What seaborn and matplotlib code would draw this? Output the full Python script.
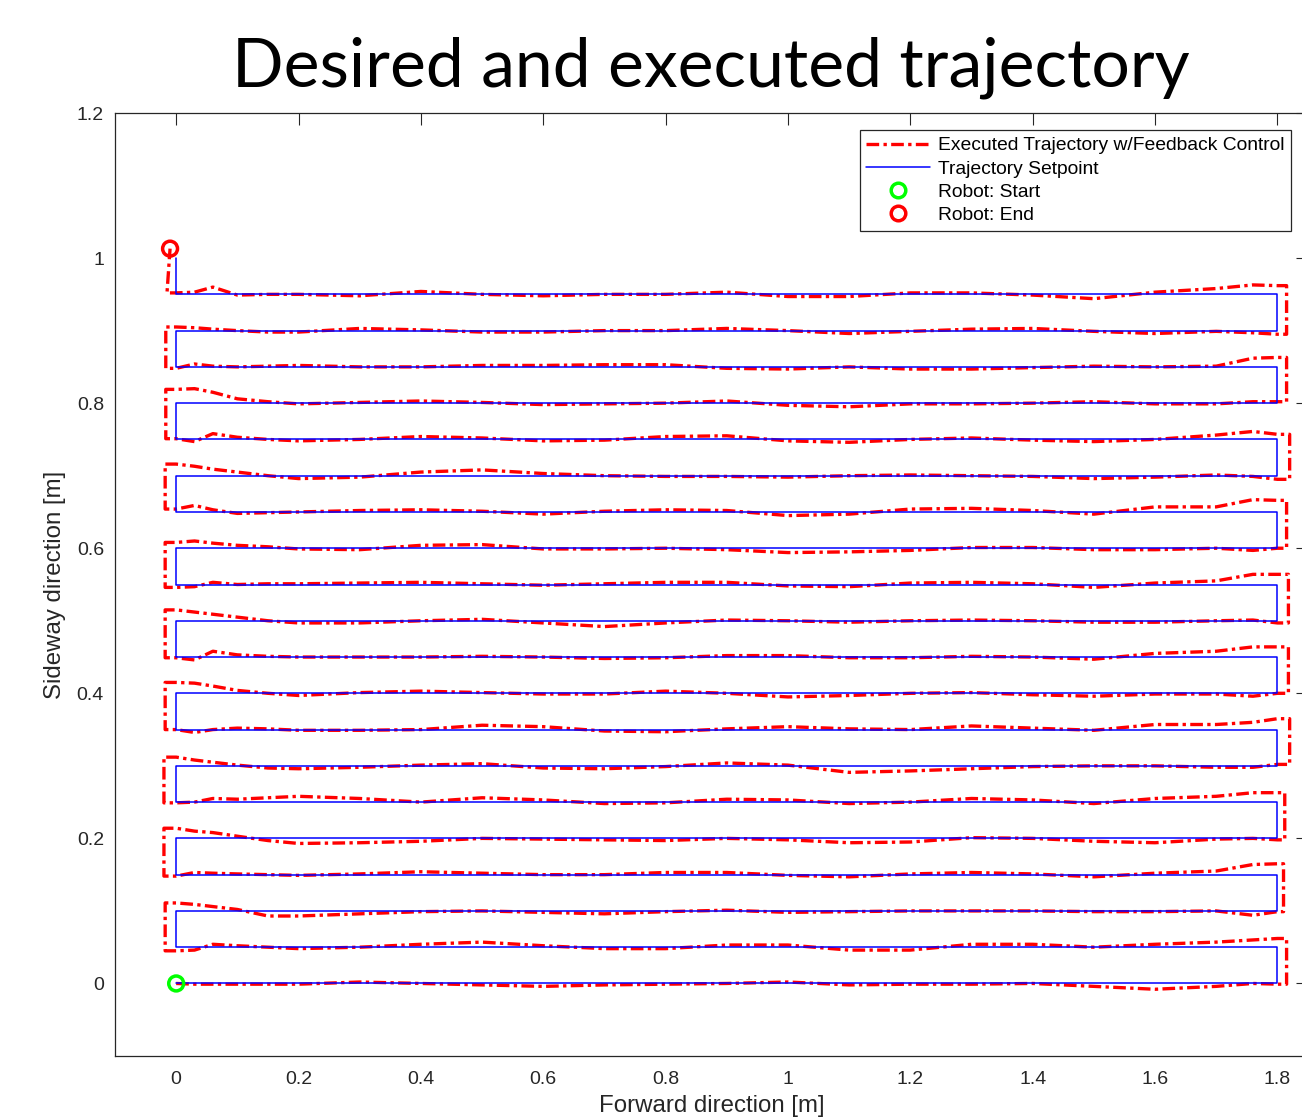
import numpy as np
import pandas as pd
import matplotlib
matplotlib.use("Agg")
import matplotlib.pyplot as plt
from matplotlib.lines import Line2D
import seaborn as sns

# ---------------- data ----------------
ROW_Y = [0.00, 0.05, 0.10, 0.15, 0.20, 0.25, 0.30, 0.35, 0.40, 0.45,
         0.50, 0.55, 0.60, 0.65, 0.70, 0.75, 0.80, 0.85, 0.90, 0.95]
X_MIN_SET = 0.0
X_MAX_SET = 1.8
SET_END_Y = 1.0

# x positions at which the executed path deviation was read (m)
X_GRID = [0.00, 0.03, 0.06, 0.10, 0.15, 0.20, 0.30, 0.40, 0.50, 0.60, 0.70, 0.80,
          0.90, 1.00, 1.10, 1.20, 1.30, 1.40, 1.50, 1.60, 1.70, 1.76, 1.80]

# executed-path deviation from each setpoint row (mm), ordered by X_GRID
DEV_ROW_00 = [0, -1, -1, -1, -1, -1, 2, 0, -2, -4, -2, -1, 0, 2, -2, -1, -1, 0, -4, -8, -4, 0, -1]
DEV_ROW_01 = [-5, -4, 4, 2, 0, -2, 0, 4, 7, 2, -2, -2, 3, 3, -4, -4, 4, 4, 0, 4, 7, 10, 12]
DEV_ROW_02 = [11, 9, 6, 2, -7, -7, -4, -1, 0, -2, -4, -1, 1, -2, -1, 0, 0, 0, -1, -1, 0, -6, -1]
DEV_ROW_03 = [-2, 3, 2, 1, 0, -1, 1, 4, 2, 0, 0, 3, 3, -1, -3, 1, 3, 1, -3, 2, 5, 14, 15]
DEV_ROW_04 = [14, 10, 8, 3, -3, -7, -6, -4, 0, -1, -2, -3, 0, -2, -6, -5, 1, 0, -4, -6, -1, 0, -2]
DEV_ROW_05 = [-1, 0, 5, 4, 6, 8, 5, 0, 6, 3, -2, -1, 4, 3, -2, 0, 5, 3, -2, 5, 8, 13, 13]
DEV_ROW_06 = [12, 8, 5, 1, -3, -4, -2, 1, 3, -3, -4, -1, 4, 1, -9, -7, -4, -1, 0, 0, -2, -2, 2]
DEV_ROW_07 = [0, -4, 0, 2, 1, -1, -1, 0, 6, 4, -2, -3, 1, 4, 1, 0, 5, 2, -1, 7, 7, 10, 15]
DEV_ROW_08 = [15, 14, 10, 4, 0, -3, 1, 3, 1, -1, -1, 3, 0, -5, -3, 0, 1, -2, -4, -1, -1, -4, 0]
DEV_ROW_09 = [-1, -4, 8, 3, 1, 0, 0, 0, 1, 0, -2, -1, 2, 2, -1, -1, 1, 0, -3, 5, 8, 14, 14]
DEV_ROW_10 = [15, 12, 9, 5, 0, -3, -3, 0, 2, -3, -8, -3, 1, 0, -2, 0, 1, 0, -2, -2, 0, 1, -3]
DEV_ROW_11 = [-4, -3, 3, 0, 1, 1, 2, 3, 1, -1, 1, 3, 3, -2, -3, 2, 3, 1, -4, 2, 5, 14, 14]
DEV_ROW_12 = [8, 10, 7, 4, 2, -1, -2, 4, 5, -1, -1, 0, -2, -6, -5, -3, 1, 1, -2, -2, 0, -3, 0]
DEV_ROW_13 = [4, 9, 3, -2, -1, 0, 2, 3, 1, -3, 1, 3, 2, -5, -3, 4, 5, 2, -3, 7, 7, 17, 16]
DEV_ROW_14 = [16, 13, 9, 5, 0, -4, -2, 5, 8, 3, 0, -1, -1, -2, 0, 1, 0, -1, -4, -2, 1, -1, -5]
DEV_ROW_15 = [1, -3, 8, 3, 0, -2, 0, 4, 2, -2, -1, 4, 5, -2, -4, 0, 2, -1, -3, 0, 6, 11, 7]
DEV_ROW_16 = [19, 20, 15, 6, 2, -1, 1, 3, 1, -2, -1, 0, 3, -3, -5, -1, -1, 0, 2, -1, -1, 2, 2]
DEV_ROW_17 = [-2, 4, 1, 0, 1, 2, 0, 0, 2, 2, 3, 3, -2, -3, 0, -3, -3, -1, 1, 0, 1, 12, 13]
DEV_ROW_18 = [5, 4, 2, 0, -2, -2, 3, 1, -2, -2, 0, 0, 3, 0, -4, -1, 2, 3, -1, -4, -1, -3, -5]
DEV_ROW_19 = [2, 3, 10, -1, 0, 0, -2, 4, 0, -2, 0, 0, 3, -3, -3, 2, 2, -1, -6, 3, 8, 13, 12]
DEV_ROWS = [DEV_ROW_00, DEV_ROW_01, DEV_ROW_02, DEV_ROW_03, DEV_ROW_04,
            DEV_ROW_05, DEV_ROW_06, DEV_ROW_07, DEV_ROW_08, DEV_ROW_09,
            DEV_ROW_10, DEV_ROW_11, DEV_ROW_12, DEV_ROW_13, DEV_ROW_14,
            DEV_ROW_15, DEV_ROW_16, DEV_ROW_17, DEV_ROW_18, DEV_ROW_19]

# x reached by the robot while turning (right end / left end)
TURN_X_RIGHT = [1.815, 1.810, 1.812, 1.820, 1.818, 1.818, 1.815, 1.820, 1.815, 1.815]
TURN_X_LEFT = [-0.018, -0.020, -0.020, -0.018, -0.018, -0.018, -0.018, -0.017, -0.017]
FINAL_TURN_X = -0.015
START_XY = (0.0, 0.0)
END_XY = (-0.010, 1.013)

LABEL_EXEC = "Executed Trajectory w/Feedback Control"
LABEL_SET = "Trajectory Setpoint"
LABEL_START = "Robot: Start"
LABEL_END = "Robot: End"
TITLE = "Desired and executed trajectory"
XLABEL = "Forward direction [m]"
YLABEL = "Sideway direction [m]"
XTICKS = [0, 0.2, 0.4, 0.6, 0.8, 1.0, 1.2, 1.4, 1.6, 1.8]
XTICK_LABELS = ["0", "0.2", "0.4", "0.6", "0.8", "1", "1.2", "1.4", "1.6", "1.8"]
YTICKS = [0, 0.2, 0.4, 0.6, 0.8, 1.0, 1.2]
YTICK_LABELS = ["0", "0.2", "0.4", "0.6", "0.8", "1", "1.2"]

# ---------------- build paths ----------------
sx, sy = [], []
for i, y in enumerate(ROW_Y):
    if i % 2 == 0:
        sx += [X_MIN_SET, X_MAX_SET]
    else:
        sx += [X_MAX_SET, X_MIN_SET]
    sy += [y, y]
sx.append(X_MIN_SET)
sy.append(SET_END_Y)
setpoint = pd.DataFrame({"x": sx, "y": sy})

ex, ey = [], []
xg = np.array(X_GRID)
prev_end = None
for i, y in enumerate(ROW_Y):
    yy = y + np.array(DEV_ROWS[i]) / 1000.0
    xx = xg.copy()
    if i % 2 == 1:
        xx = xx[::-1]
        yy = yy[::-1]
    if i > 0:
        if i % 2 == 1:
            tx = TURN_X_RIGHT[(i - 1) // 2]
        else:
            tx = TURN_X_LEFT[(i - 2) // 2]
        ex += [tx, tx]
        ey += [prev_end, yy[0]]
    ex += list(xx)
    ey += list(yy)
    prev_end = yy[-1]
ex += [FINAL_TURN_X, END_XY[0]]
ey += [prev_end, END_XY[1]]
executed = pd.DataFrame({"x": ex, "y": ey})

# ---------------- figure ----------------
sns.set_theme(style="white")
plt.rcParams["font.family"] = ["Liberation Sans", "DejaVu Sans"]

W, H = 1302, 1117
fig = plt.figure(figsize=(W / 100, H / 100), dpi=100)
ax_l, ax_r, ax_t, ax_b = 115, 1308, 113, 1056
ax = fig.add_axes([ax_l / W, (H - ax_b) / H, (ax_r - ax_l) / W, (ax_b - ax_t) / H])

RED = "#FF0000"
BLUE = "#0000FF"
GREEN = "#00FF00"
GRAY = "#262626"
DASHDOT = (0, (3.8, 1.3, 1.0, 1.3))

sns.lineplot(data=executed, x="x", y="y", sort=False, estimator=None,
             color=RED, linewidth=2.4, linestyle=DASHDOT, ax=ax, zorder=2,
             legend=False)
sns.lineplot(data=setpoint, x="x", y="y", sort=False, estimator=None,
             color=BLUE, linewidth=1.1, ax=ax, zorder=3, legend=False)
sns.scatterplot(x=[START_XY[0]], y=[START_XY[1]], marker="o", s=115,
                facecolors="none", edgecolors=GREEN, linewidths=2.5, ax=ax,
                zorder=4, legend=False)
sns.scatterplot(x=[END_XY[0]], y=[END_XY[1]], marker="o", s=115,
                facecolors="none", edgecolors=RED, linewidths=2.5, ax=ax,
                zorder=4, legend=False)

ax.set_xlim(-0.1, 1.85)
ax.set_ylim(-0.1, 1.2)
ax.set_xticks(XTICKS)
ax.set_xticklabels(XTICK_LABELS)
ax.set_yticks(YTICKS)
ax.set_yticklabels(YTICK_LABELS)
ax.tick_params(axis="both", direction="in", length=8.6, width=0.8, color=GRAY,
               labelcolor=GRAY, labelsize=14, top=True, right=True)
ax.tick_params(axis="x", pad=11)
ax.tick_params(axis="y", pad=8)
for sp in ax.spines.values():
    sp.set_color(GRAY)
    sp.set_linewidth(0.9)
ax.grid(False)

ax.set_xlabel(XLABEL, fontsize=17.3, color=GRAY)
ax.set_ylabel(YLABEL, fontsize=17.3, color=GRAY)
ax.xaxis.set_label_coords(0.5, -(1106 - ax_b) / (ax_b - ax_t))
ax.xaxis.label.set_verticalalignment("center")
ax.yaxis.set_label_coords((55 - ax_l) / (ax_r - ax_l), 0.5)
ax.yaxis.label.set_verticalalignment("center")

handles = [
    Line2D([], [], color=RED, linewidth=2.4, linestyle=DASHDOT),
    Line2D([], [], color=BLUE, linewidth=1.1),
    Line2D([], [], color=GREEN, marker="o", linestyle="none", markersize=10.5,
           markerfacecolor="none", markeredgewidth=2.5),
    Line2D([], [], color=RED, marker="o", linestyle="none", markersize=10.5,
           markerfacecolor="none", markeredgewidth=2.5),
]
leg = ax.legend(handles, [LABEL_EXEC, LABEL_SET, LABEL_START, LABEL_END],
                loc="upper right",
                bbox_to_anchor=((1291 - ax_l) / (ax_r - ax_l), (ax_b - 130) / (ax_b - ax_t)),
                borderaxespad=0, fontsize=13.9, frameon=True, fancybox=False,
                framealpha=1, edgecolor=GRAY, handlelength=3.3, handletextpad=0.4,
                labelspacing=0.3, borderpad=0.35, labelcolor="black")
leg.get_frame().set_linewidth(0.9)

# title fitted to the reference width
title = fig.text(711 / W, 1 - 86.7 / H, TITLE, family=["Lato", "DejaVu Sans"],
                 fontsize=48, ha="center", va="baseline", color="black")
fig.canvas.draw()
bb = title.get_window_extent()
title.set_fontsize(48 * 957 / bb.width)

fig.savefig("out.png", dpi=100)
